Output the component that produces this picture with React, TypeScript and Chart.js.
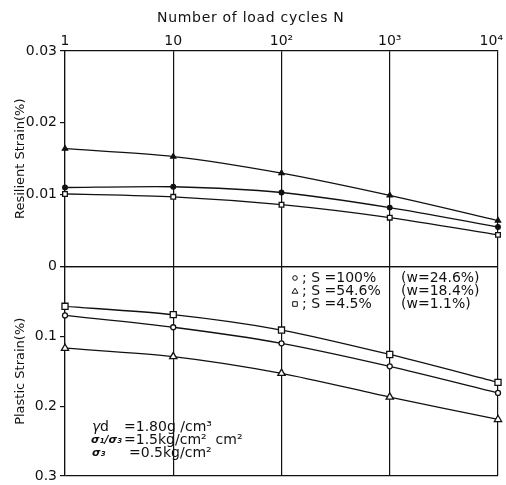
import React, { useEffect, useRef } from 'react';
import { Chart, registerables } from 'chart.js';

Chart.register(...registerables);

const cycles = [1, 10, 100, 1000, 10000];
const cycleLabels = ['1', '10', '10²', '10³', '10⁴   '];
const resilientTicks = [0, 0.01, 0.02, 0.03];
const plasticTicks = [0, 0.1, 0.2, 0.3];

const resilientS100 = [0.011, 0.0111, 0.0103, 0.0082, 0.0055];
const resilientS546 = [0.0164, 0.0153, 0.013, 0.0099, 0.0064];
const resilientS45 = [0.0101, 0.0097, 0.0086, 0.0068, 0.0044];

const plasticS100 = [0.07, 0.087, 0.11, 0.143, 0.181];
const plasticS546 = [0.117, 0.129, 0.153, 0.187, 0.219];
const plasticS45 = [0.057, 0.069, 0.091, 0.126, 0.166];

const legendS = ['; S =100%', '; S =54.6%', '; S =4.5%'];
const legendW = ['(w=24.6%)', '(w=18.4%)', '(w=1.1%)'];
const legendStyles = ['circle', 'triangle', 'rect'];

const FONT = '"DejaVu Sans", "Liberation Sans", sans-serif';
const INK = '#111';

const overlayPlugin = {
  id: 'overlay',
  afterDraw(chart: any) {
    const ctx = chart.ctx as CanvasRenderingContext2D;
    ctx.save();
    ctx.fillStyle = INK;
    ctx.strokeStyle = INK;
    ctx.lineWidth = 1;
    ctx.textBaseline = 'middle';
    ctx.textAlign = 'left';
    // axis title (top)
    ctx.font = `14px ${FONT}`;
    (ctx as any).letterSpacing = '0.7px';
    ctx.fillText('Number of load cycles N', 157, 18);
    (ctx as any).letterSpacing = '0px';
    // legend
    const ly = [278, 291, 304];
    legendS.forEach((s, i) => {
      const y = ly[i];
      const x = 295;
      ctx.beginPath();
      if (legendStyles[i] === 'circle') {
        ctx.arc(x, y, 2.3, 0, Math.PI * 2);
      } else if (legendStyles[i] === 'triangle') {
        ctx.moveTo(x, y - 2.8);
        ctx.lineTo(x + 3, y + 2.2);
        ctx.lineTo(x - 3, y + 2.2);
        ctx.closePath();
      } else {
        ctx.rect(x - 2.3, y - 2.3, 4.6, 4.6);
      }
      ctx.stroke();
      ctx.font = `14px ${FONT}`;
      ctx.fillText(s, 302, y);
      ctx.fillText(legendW[i], 401, y);
    });
    // conditions
    ctx.font = `italic 14px ${FONT}`;
    ctx.fillText('γ', 92, 427);
    ctx.font = `14px ${FONT}`;
    ctx.fillText('d', 100, 427);
    ctx.fillText('=1.80g /cm³', 124, 427);
    ctx.font = `italic bold 11px ${FONT}`;
    ctx.fillText('σ₁/σ₃', 91, 440);
    ctx.font = `14px ${FONT}`;
    ctx.fillText('=1.5kg/cm²  cm²', 124, 440);
    ctx.font = `italic bold 11px ${FONT}`;
    ctx.fillText('σ₃', 92, 453);
    ctx.font = `14px ${FONT}`;
    ctx.fillText('=0.5kg/cm²', 129, 453);
    ctx.restore();
  },
};

function ds(label: string, data: number[], axis: string, style: string, radius: number, fillColor: string) {
  return {
    label,
    data: cycles.map((c, i) => ({ x: c, y: data[i] })),
    yAxisID: axis,
    borderColor: INK,
    borderWidth: 1.3,
    pointStyle: style,
    pointRadius: radius,
    pointBorderWidth: 1.3,
    pointBackgroundColor: fillColor,
    pointBorderColor: INK,
    tension: 0.25,
    fill: false,
    clip: false as any,
  };
}

export default function App() {
  const ref = useRef<HTMLCanvasElement | null>(null);
  useEffect(() => {
    document.body.style.margin = '0';
    const canvas = ref.current!;
    const chart = new Chart(canvas, {
      type: 'line',
      data: {
        datasets: [
          ds('R S=100%', resilientS100, 'yr', 'circle', 2.3, INK),
          ds('R S=54.6%', resilientS546, 'yr', 'triangle', 3, INK),
          ds('R S=4.5%', resilientS45, 'yr', 'rect', 3.3, '#fff'),
          ds('P S=100%', plasticS100, 'yp', 'circle', 2.5, '#fff'),
          ds('P S=54.6%', plasticS546, 'yp', 'triangle', 4.2, '#fff'),
          ds('P S=4.5%', plasticS45, 'yp', 'rect', 4.3, '#fff'),
        ] as any,
      },
      plugins: [overlayPlugin],
      options: {
        animation: false,
        responsive: true,
        maintainAspectRatio: false,
        layout: { padding: { left: 0, top: 0, right: 8, bottom: 9 } },
        plugins: { legend: { display: false }, tooltip: { enabled: false }, title: { display: false } },
        scales: {
          x: {
            type: 'logarithmic',
            position: 'top',
            min: 1,
            max: 10000,
            afterBuildTicks: (s: any) => {
              s.ticks = cycles.map((v) => ({ value: v }));
            },
            afterFit: (s: any) => {
              s.height = 51;
              s.paddingLeft = 0;
              s.paddingRight = 0;
            },
            ticks: {
              autoSkip: false,
              maxRotation: 0,
              padding: 1,
              color: INK,
              font: { family: FONT, size: 14 },
              callback: (v: any) => {
                const i = cycles.indexOf(Number(v));
                return i >= 0 ? cycleLabels[i] : '';
              },
            },
            grid: { color: INK, lineWidth: 1.2, drawTicks: false },
            border: { display: true, color: INK, width: 1.2 },
            title: { display: false },
          },
          yp: {
            type: 'linear',
            position: 'left',
            stack: 'strain',
            stackWeight: 210,
            weight: 1,
            reverse: true,
            min: 0,
            max: 0.3,
            afterBuildTicks: (s: any) => {
              s.ticks = plasticTicks.map((v) => ({ value: v }));
            },
            afterFit: (s: any) => {
              s.width = 65;
              s.paddingTop = 0;
              s.paddingBottom = 0;
            },
            ticks: {
              padding: 3,
              color: INK,
              font: { family: FONT, size: 14 },
              callback: (v: any) => (Number(v) === 0 ? '' : Number(v).toFixed(1)),
            },
            grid: {
              color: (c: any) => (c.tick && (c.tick.value === 0 || c.tick.value === 0.3) ? INK : 'rgba(0,0,0,0)'),
              tickColor: INK,
              tickLength: 5,
              lineWidth: 1.2,
            },
            border: { display: true, color: INK, width: 1.2 },
            title: {
              display: true,
              text: 'Plastic Strain(%)',
              color: INK,
              font: { family: FONT, size: 13 },
              padding: { top: 13, bottom: 0 },
            },
          },
          yr: {
            type: 'linear',
            position: 'left',
            stack: 'strain',
            stackWeight: 216,
            weight: 2,
            min: 0,
            max: 0.03,
            afterBuildTicks: (s: any) => {
              s.ticks = resilientTicks.map((v) => ({ value: v }));
            },
            afterFit: (s: any) => {
              s.width = 65;
              s.paddingTop = 0;
              s.paddingBottom = 0;
            },
            ticks: {
              padding: 3,
              color: INK,
              font: { family: FONT, size: 14 },
              callback: (v: any) => (Number(v) === 0 ? '0' : Number(v).toFixed(2)),
            },
            grid: {
              color: (c: any) => (c.tick && c.tick.value === 0 ? INK : 'rgba(0,0,0,0)'),
              tickColor: INK,
              tickLength: 5,
              lineWidth: 1.2,
            },
            border: { display: true, color: INK, width: 1.2 },
            title: {
              display: true,
              text: 'Resilient Strain(%)',
              color: INK,
              font: { family: FONT, size: 13 },
              padding: { top: 13, bottom: 0 },
            },
          },
        } as any,
      },
    });
    return () => chart.destroy();
  }, []);
  return (
    <div style={{ width: 506, height: 485, position: 'relative', background: '#fff' }}>
      <canvas ref={ref} />
    </div>
  );
}
